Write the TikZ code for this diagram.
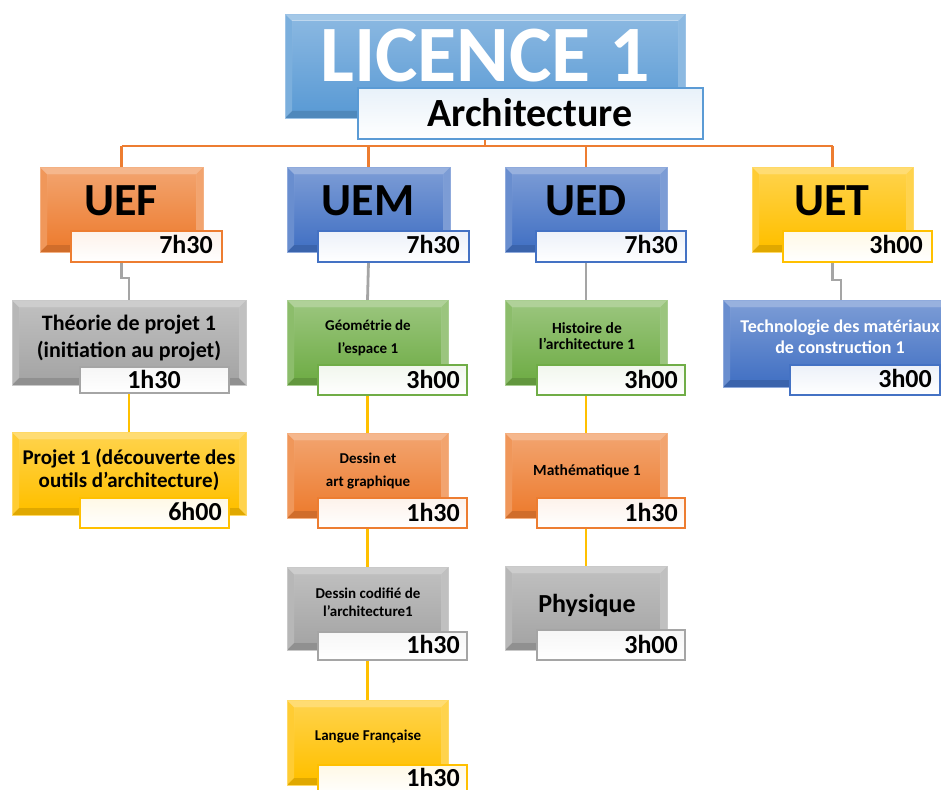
\documentclass[tikz,border=0pt]{standalone}
\usepackage{fontspec}
\setmainfont{Carlito}
\usetikzlibrary{calc}
\pgfdeclarelayer{bg}
\pgfsetlayers{bg,main}
\definecolor{corange}{HTML}{ED7D31}
\definecolor{cblue}{HTML}{4472C4}
\definecolor{tblue}{HTML}{5B9BD5}
\definecolor{cgold}{HTML}{FFC000}
\definecolor{cgray}{HTML}{A5A5A5}
\definecolor{cgreen}{HTML}{70AD47}
\tikzset{
 bev/.style={rectangle, inner sep=0pt, outer sep=0pt, draw=#1!60!white, line width=0.8pt, fill=#1,
  path picture={
   \coordinate (pnw) at (path picture bounding box.north west);
   \coordinate (pse) at (path picture bounding box.south east);
   \coordinate (pne) at (path picture bounding box.north east);
   \coordinate (psw) at (path picture bounding box.south west);
   \shade[top color=#1!72!white, bottom color=#1] ($(pnw)+(7,7)$) rectangle ($(pse)+(-7,-7)$);
   \fill[white, opacity=.45] (pnw) -- (pne) -- ($(pne)+(-7,7)$) -- ($(pnw)+(7,7)$) -- cycle;
   \fill[white, opacity=.2] (pnw) -- ($(pnw)+(7,7)$) -- ($(psw)+(7,-7)$) -- (psw) -- cycle;
   \fill[white, opacity=.3] (pne) -- (pse) -- ($(pse)+(-7,-7)$) -- ($(pne)+(-7,7)$) -- cycle;
   \fill[black, opacity=.12] (psw) -- (pse) -- ($(pse)+(-7,-7)$) -- ($(psw)+(7,-7)$) -- cycle;
  }},
 tbox/.style={rectangle, inner sep=0pt, outer sep=0pt, draw=#1, line width=1.3pt, top color=#1!10!white, bottom color=white},
 fs/.style={font=\bfseries\fontsize{#1}{#1}\selectfont, inner sep=0pt},
 oline/.style={draw=corange, line width=2.2pt},
 gline/.style={draw=cgray, line width=2.8pt},
 yline/.style={draw=cgold, line width=2.6pt},
}
\newcommand\mkbox[6]{\node[bev=#6, minimum width={(#4-#2)*1pt}, minimum height={(#5-#3)*1pt}] (#1) at ({(#2+#4)/2},{(#3+#5)/2}) {};}
\newcommand\mkt[6]{\node[tbox=#6, minimum width={(#4-#2)*1pt}, minimum height={(#5-#3)*1pt}] (#1) at ({(#2+#4)/2},{(#3+#5)/2}) {};}
\begin{document}
\begin{tikzpicture}[x=1pt,y=-1pt]
\useasboundingbox (0,0) rectangle (941,789);
\clip (0,0) rectangle (941,789);
\coordinate (bus) at (0,146);
% title
\mkbox{title}{285}{14}{685}{118}{tblue}
\node[draw=tblue, line width=1.5pt, top color=tblue!14!white, bottom color=white, minimum width=345pt, minimum height=51pt, inner sep=0pt] (sub) at (530.5,113.5) {};
\node[fs=80, white, anchor=base] (t1) at (485,82) {LICENCE 1};
\node[fs=40, anchor=base] (t2) at (530,126) {Architecture};
% UE boxes
\mkbox{uef}{40}{167}{203}{252}{corange}
\mkbox{uem}{287}{167}{450}{252}{cblue}
\mkbox{ued}{505}{167}{667}{252}{cblue}
\mkbox{uet}{752}{167}{913}{252}{cgold}
% level 2 boxes
\mkbox{theo}{12}{300}{246}{385}{cgray}
\mkbox{proj}{12}{432}{246}{515}{cgold}
\mkbox{geo}{287}{300}{448}{385}{cgreen}
\mkbox{des}{287}{433}{448}{518}{corange}
\mkbox{cod}{287}{567}{448}{650}{cgray}
\mkbox{lan}{287}{700}{448}{785}{cgold}
\mkbox{hist}{505}{300}{667}{385}{cgreen}
\mkbox{math}{505}{433}{667}{518}{corange}
\mkbox{phys}{505}{566}{667}{650}{cgray}
\mkbox{tech}{723}{300}{959}{387}{cblue}
% time boxes
\mkt{ueft}{71}{231}{222}{262}{corange}
\mkt{uemt}{318}{231}{469}{262}{cblue}
\mkt{uedt}{536}{231}{686}{262}{cblue}
\mkt{uett}{783}{231}{932}{262}{cgold}
\mkt{theot}{80}{367}{229}{393}{cgray}
\mkt{projt}{80}{498}{229}{528}{cgold}
\mkt{geot}{318}{365}{467}{395}{cgreen}
\mkt{dest}{318}{498}{467}{528}{corange}
\mkt{codt}{318}{632}{467}{660}{cgray}
\mkt{lant}{318}{765}{467}{795}{cgold}
\mkt{histt}{537}{365}{685}{395}{cgreen}
\mkt{matht}{537}{498}{685}{528}{corange}
\mkt{physt}{537}{630}{685}{660}{cgray}
\mkt{techt}{790}{365}{940}{395}{cblue}
% ---- connectors behind boxes ----
\begin{pgfonlayer}{bg}
\fill[white] (0,0) rectangle (941,789);
\draw[oline] (title.south |- sub.south) -- (title.south |- bus);
\draw[oline] (uef.north |- bus) -- (uet.north |- bus);
\draw[oline] (uef.north |- bus) -- (uef.north);
\draw[oline] (uem.north |- bus) -- (uem.north);
\draw[oline] (ued.north |- bus) -- (ued.north);
\draw[oline] (uet.north |- bus) -- (uet.north);
\draw[gline] (uef.south |- ueft.south) -- ++(0,16) -| (theo.north);
\draw[gline] (uem.south |- uemt.south) -- (geo.north);
\draw[gline] (ued.south |- uedt.south) -- (hist.north);
\draw[gline] (uet.south |- uett.south) -- ++(0,18) -| (tech.north);
\draw[yline] (theo.south) -- (proj.north);
\draw[yline] (geo.south) -- (des.north);
\draw[yline] (des.south) -- (cod.north);
\draw[yline] (cod.south) -- (lan.north);
\draw[yline] (hist.south) -- (math.north);
\draw[yline] (math.south) -- (phys.north);
\end{pgfonlayer}
% texts
\node[fs=46, anchor=base] (uefl) at (121,215) {UEF};
\node[fs=46, anchor=base] (ueml) at (368,215) {UEM};
\node[fs=46, anchor=base] (uedl) at (586,215) {UED};
\node[fs=46, anchor=base] (uetl) at (832,215) {UET};
\node[fs=26, anchor=base east] (ueftl) at (213,253) {7h30};
\node[fs=26, anchor=base east] (uemtl) at (460,253) {7h30};
\node[fs=26, anchor=base east] (uedtl) at (678,253) {7h30};
\node[fs=26, anchor=base east] (uettl) at (923,253) {3h00};
\node[fs=22, anchor=base] (theo1) at (129,330) {Théorie de projet 1};
\node[fs=22, anchor=base] (theo2) at (129,357) {(initiation au projet)};
\node[fs=26, anchor=base] (theotl) at (154,388) {1h30};
\node[fs=21, anchor=base] (proj1) at (129,464) {Projet 1 (découverte des};
\node[fs=21, anchor=base] (proj2) at (129,487) {outils d’architecture)};
\node[fs=26, anchor=base east] (projtl) at (222,520) {6h00};
\node[fs=15, anchor=base] (geo1) at (368,330) {Géométrie de};
\node[fs=15, anchor=base] (geo2) at (368,353) {l’espace 1};
\node[fs=26, anchor=base east] (geotl) at (460,388) {3h00};
\node[fs=15, anchor=base] (des1) at (368,463) {Dessin et};
\node[fs=15, anchor=base] (des2) at (368,486) {art graphique};
\node[fs=26, anchor=base east] (destl) at (460,521) {1h30};
\node[fs=15, anchor=base] (cod1) at (368,598) {Dessin codifié de};
\node[fs=15, anchor=base] (cod2) at (368,616) {l’architecture1};
\node[fs=26, anchor=base east] (codtl) at (460,653) {1h30};
\node[fs=15, anchor=base] (lan1) at (368,740) {Langue Française};
\node[fs=26, anchor=base east] (lantl) at (460,786) {1h30};
\node[fs=15.5, anchor=base] (hist1) at (587,333) {Histoire de};
\node[fs=15.5, anchor=base] (hist2) at (587,349) {l’architecture 1};
\node[fs=26, anchor=base east] (histtl) at (678,388) {3h00};
\node[fs=15.5, anchor=base] (math1) at (587,475) {Mathématique 1};
\node[fs=26, anchor=base east] (mathtl) at (678,521) {1h30};
\node[fs=26, anchor=base] (phys1) at (587,612) {Physique};
\node[fs=26, anchor=base east] (phystl) at (678,653) {3h00};
\node[fs=18, anchor=base, white] (tech1) at (840,332) {Technologie des matériaux};
\node[fs=18, anchor=base, white] (tech2) at (840,353) {de construction 1};
\node[fs=26, anchor=base east] (techtl) at (932,387) {3h00};
\end{tikzpicture}
\end{document}
